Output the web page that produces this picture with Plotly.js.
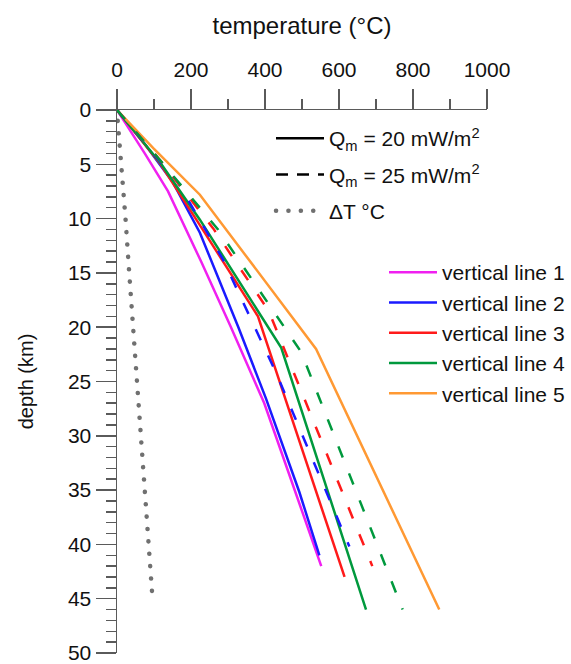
<!DOCTYPE html>
<html>
<head>
<meta charset="utf-8">
<script src="https://cdn.plot.ly/plotly-3.0.1.min.js"></script>
<style>
html,body{margin:0;padding:0;background:#fff;}
#chart{width:571px;height:664px;}
path[style*="112, 112, 112"]{stroke-linecap:round;}
</style>
</head>
<body>
<div id="chart"></div>
<script>
// ---- data (temperature °C vs depth km) ----
const seriesNames = ["vertical line 1", "vertical line 2", "vertical line 3", "vertical line 4", "vertical line 5"];
const seriesColors = ["#f020f0", "#1a1aff", "#ff1a1a", "#00993d", "#ff9933"];

// Qm = 20 mW/m2 (solid)
const depth20_1 = [0, 4, 7.5, 14, 20, 27, 34, 42];
const temp20_1  = [0, 75, 138, 228, 308, 398, 470, 552];
const depth20_2 = [0, 3, 6.6, 11.3, 20, 26.6, 35.2, 41];
const temp20_2  = [0, 72, 150, 224, 328, 403, 493, 547];
const depth20_3 = [0, 5, 10.6, 19, 26.6, 43];
const temp20_3  = [0, 118, 224, 381, 455, 615];
const depth20_4 = [0, 5, 10.1, 21.9, 46];
const temp20_4  = [0, 120, 224, 444, 673];
const depth20_5 = [0, 3.5, 7.8, 22, 46];
const temp20_5  = [0, 98, 224, 538, 871];

// Qm = 25 mW/m2 (dashed) for lines 2, 3, 4
const depth25_2 = [0, 6.7, 13.8, 24.2, 40.2];
const temp25_2  = [0, 165, 287, 430, 628];
const depth25_3 = [0, 4.6, 10.9, 18.5, 42];
const temp25_3  = [0, 116, 260, 410, 690];
const depth25_4 = [0, 4.6, 11, 22.3, 46];
const temp25_4  = [0, 116, 273, 498, 772];

// ΔT (dotted)
const depthDT = [1, 5, 10, 15, 20, 25, 30, 35, 40, 45];
const tempDT  = [2, 12, 23, 33, 43, 53, 63, 74, 85, 96];

const legendLabels = ["Q<sub>m</sub> = 20 mW/m<sup>2</sup>", "Q<sub>m</sub> = 25 mW/m<sup>2</sup>", "ΔT °C"];

// ---- traces ----
const solidX = [temp20_1, temp20_2, temp20_3, temp20_4, temp20_5];
const solidY = [depth20_1, depth20_2, depth20_3, depth20_4, depth20_5];
const traces = [];
for (let i = 0; i < 5; i++) {
  traces.push({
    type: "scatter", mode: "lines", x: solidX[i], y: solidY[i],
    name: seriesNames[i], legend: "legend2",
    line: {color: seriesColors[i], width: 2.5}
  });
}
const dashX = [temp25_2, temp25_3, temp25_4];
const dashY = [depth25_2, depth25_3, depth25_4];
for (let i = 0; i < 3; i++) {
  traces.push({
    type: "scatter", mode: "lines", x: dashX[i], y: dashY[i],
    showlegend: false,
    line: {color: seriesColors[i + 1], width: 2.5, dash: "12px,17px"}
  });
}
traces.push({type: "scatter", mode: "lines", x: [null, null], y: [null, null], name: legendLabels[0],
  legend: "legend", legendgroup: "g1", line: {color: "#000", width: 2.5}});
traces.push({type: "scatter", mode: "lines", x: [null, null], y: [null, null], name: legendLabels[1],
  legend: "legend", legendgroup: "g2", line: {color: "#000", width: 2.5, dash: "12px,9px"}});
traces.push({type: "scatter", mode: "lines", x: tempDT, y: depthDT, name: legendLabels[2],
  legend: "legend", legendgroup: "g3", line: {color: "#707070", width: 4.5, dash: "0.1px,12.3px"}});

const axisColor = "#5a5a5a";
const layout = {
  width: 571, height: 664,
  margin: {l: 117, r: 84, t: 110, b: 11, pad: 0, autoexpand: false},
  paper_bgcolor: "#fff", plot_bgcolor: "#fff",
  font: {family: "Liberation Sans, Arial, sans-serif", color: "#111", size: 21},
  showlegend: true,
  xaxis: {
    range: [0, 1000], side: "top",
    showline: true, linecolor: axisColor, linewidth: 1.5,
    ticks: "outside", ticklen: 20, tickwidth: 1.5, tickcolor: axisColor,
    tick0: 0, dtick: 200, ticklabelstandoff: 3, ticklabeloverflow: "allow",
    minor: {ticks: "outside", dtick: 100, ticklen: 10, tickwidth: 1.5, tickcolor: axisColor},
    showgrid: false, zeroline: false,
    tickfont: {size: 21, color: "#111"},
    title: {text: "temperature (°C)", font: {size: 24, color: "#111"}, standoff: 16}
  },
  yaxis: {
    range: [50, 0],
    showline: true, linecolor: axisColor, linewidth: 1.5,
    ticks: "outside", ticklen: 20, tickwidth: 1.5, tickcolor: axisColor,
    tick0: 0, dtick: 5, ticklabeloverflow: "allow",
    minor: {ticks: "outside", dtick: 1, ticklen: 10, tickwidth: 1.5, tickcolor: axisColor},
    showgrid: false, zeroline: false,
    tickfont: {size: 21, color: "#111"},
    title: {text: "depth (km)", font: {size: 20, color: "#111"}, standoff: 29}
  },
  legend: {
    x: (271 - 117) / 370, y: 1 - (118 - 110) / 543, xanchor: "left", yanchor: "top",
    bgcolor: "rgba(0,0,0,0)", borderwidth: 0, itemwidth: 48,
    traceorder: "grouped", tracegroupgap: 6,
    font: {size: 21, color: "#111"}
  },
  legend2: {
    x: (384 - 117) / 370, y: 1 - (252 - 110) / 543, xanchor: "left", yanchor: "top",
    bgcolor: "rgba(0,0,0,0)", borderwidth: 0, itemwidth: 48,
    traceorder: "normal",
    font: {size: 21, color: "#111"}
  }
};

Plotly.newPlot("chart", traces, layout, {staticPlot: true, displayModeBar: false});
</script>
</body>
</html>
